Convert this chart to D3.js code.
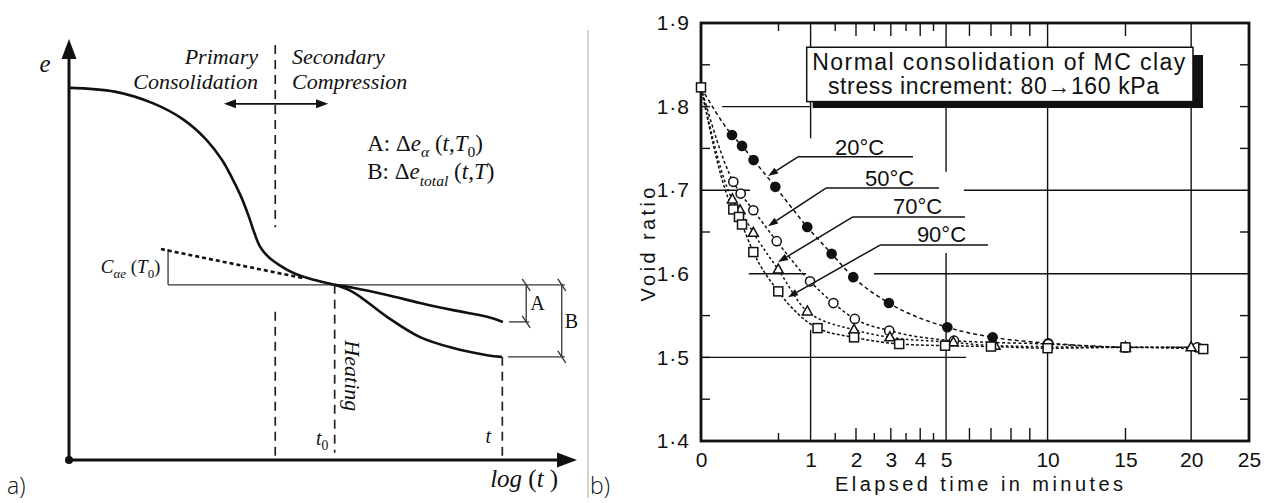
<!DOCTYPE html>
<html><head><meta charset="utf-8">
<script src="https://cdn.jsdelivr.net/npm/d3@7"></script>
<style>body{margin:0;background:#fff}svg{display:block}</style>
</head><body>
<svg id="c" width="1266" height="503"></svg>
<script>
// ================= DATA =================
// Panel (a): schematic e – log(t) curve, abstract units (0..100 on each axis)
const mainCurve = [[0,88.4],[9.0,87.5],[16.6,84.7],[22.6,80.8],[27.1,76.0],[30.1,71.3],[32.3,66.5],[33.9,62.5],[35.4,57.8],[36.5,53.9],[37.6,50.7],[39.2,48.3],[41.4,46.3],[44.4,44.3],[48.2,42.8],[52.3,41.6]];
const ambientBranch = [[52.3,41.6],[55.9,40.9],[62.6,39.2],[69.1,37.3],[75.6,35.6],[82.3,34.0],[85.4,32.8]];
const heatedBranch = [[52.3,41.6],[55.9,39.9],[62.6,34.0],[69.1,29.2],[75.6,26.6],[82.3,24.9],[85.2,24.5]];
const tangentLine = [[18.1,50.1],[46.1,43.2]];
const tDivider = 40.6, tHeat = 52.3, tEnd = 85.3;
const eRef = 41.6, eA = 32.8, eB = 24.5, eCae = 50.1;

// Panel (b): void ratio vs elapsed time (minutes)
const tempLabels = ['20°C','50°C','70°C','90°C'];
const t20 = [0,0.08,0.14,0.23,0.46,0.94,1.42,1.93,2.94,5.05,7.08,10.04,15];
const e20 = [1.823,1.766,1.753,1.736,1.704,1.656,1.624,1.596,1.565,1.536,1.524,1.517,1.512];
const t50 = [0,0.087,0.131,0.228,0.477,0.99,1.46,1.97,2.95,5.33,10.04,15,20.5];
const e50 = [1.823,1.710,1.696,1.676,1.639,1.591,1.565,1.546,1.532,1.520,1.516,1.512,1.512];
const t70 = [0,0.082,0.127,0.228,0.497,0.941,1.95,2.97,5.3,7.2,15,20];
const e70 = [1.823,1.689,1.676,1.649,1.605,1.555,1.533,1.524,1.518,1.514,1.512,1.512];
const t90 = [0,0.087,0.12,0.14,0.228,0.497,1.13,1.95,3.27,4.96,7.0,10,15,21];
const e90 = [1.823,1.677,1.668,1.659,1.626,1.579,1.535,1.524,1.516,1.514,1.513,1.511,1.512,1.510];
const yTickValues = [1.4,1.5,1.6,1.7,1.8,1.9];
const yMinorTicks = [1.45,1.55,1.65,1.75,1.85];
const xTickValues = [0,1,2,3,4,5,10,15,20,25];
const xMinorTicks = [0.5,1.5,2,2.5,3,3.5,4,4.5,6,7,8,9,15];
const boxLines = ['Normal consolidation of MC clay','stress increment: 80\u2192160 kPa'];

// ================= DRAW =================
const svg = d3.select('#c');
const INK = '#111';
const serif = 'Liberation Serif, Times New Roman, serif';
const sans = 'Liberation Sans, Arial, sans-serif';

function tri(g, x, y, dir, len, half){
  let p;
  if(dir==='up') p=[[x,y],[x-half,y+len],[x+half,y+len]];
  if(dir==='right') p=[[x,y],[x-len,y-half],[x-len,y+half]];
  if(dir==='left') p=[[x,y],[x+len,y-half],[x+len,y+half]];
  g.append('path').attr('d','M'+p.join('L')+'Z').attr('fill',INK);
}
// rich text: segs = [text, style] style: i=italic, s=subscript, si=italic subscript
function rich(g, x, y, size, segs, anchor){
  const t = g.append('text').attr('x',x).attr('y',y).attr('font-family',serif)
    .attr('font-size',size).attr('fill',INK).attr('text-anchor',anchor||'start');
  let shift = 0;
  segs.forEach(([s,st])=>{
    const sp = t.append('tspan').text(s);
    const sub = st && st.indexOf('s')>=0;
    const it = st && st.indexOf('i')>=0;
    if(it) sp.attr('font-style','italic');
    const want = sub ? size*0.28 : 0;
    if(want!==shift){ sp.attr('dy', want-shift); shift = want; }
    if(sub) sp.attr('font-size', size*0.68);
  });
  return t;
}

// ---------- Panel (a) ----------
const xA = d3.scaleLinear().domain([0,100]).range([69,577]);
const yA = d3.scaleLinear().domain([0,100]).range([460,39]);
const gA = svg.append('g');
const lineA = d3.line().x(d=>xA(d[0])).y(d=>yA(d[1])).curve(d3.curveCatmullRom.alpha(0.5));
const seg = (x1,y1,x2,y2)=>gA.append('line').attr('x1',xA(x1)).attr('y1',yA(y1)).attr('x2',xA(x2)).attr('y2',yA(y2));

// dashed verticals
const dash = {stroke:'#222','stroke-width':1.7,'stroke-dasharray':'9,6'};
[[tDivider,98.6,55.3],[tDivider,35.2,0],[tHeat,eRef,1.7],[tEnd,eB,0]].forEach(d=>{
  const l = seg(d[0],d[1],d[0],d[2]); Object.entries(dash).forEach(([k,v])=>l.attr(k,v));
});
// thin reference lines and brackets
const thin = l=>l.attr('stroke','#333').attr('stroke-width',1.3);
thin(seg(19.5,eRef,97.6,eRef));
thin(seg(19.5,eRef,19.5,eCae));
thin(seg(90.0,eRef,90.0,eA));
thin(seg(86.6,eA,90.6,eA));
thin(seg(97.0,eRef,97.0,eB));
thin(seg(86.4,eB,97.6,eB));
[[90.0,eRef],[90.0,eA],[97.0,eRef],[97.0,eB]].forEach(([x,y])=>{
  gA.append('line').attr('x1',xA(x)-4).attr('y1',yA(y)-6).attr('x2',xA(x)+4).attr('y2',yA(y)+6)
    .attr('stroke','#333').attr('stroke-width',1.3);
});
// tangent dotted
gA.append('path').attr('d',lineA(tangentLine)).attr('fill','none').attr('stroke',INK)
  .attr('stroke-width',2.6).attr('stroke-dasharray','4,3');
// curves
[mainCurve, ambientBranch, heatedBranch].forEach(c=>{
  gA.append('path').attr('d',lineA(c)).attr('fill','none').attr('stroke',INK).attr('stroke-width',2.6);
});
// axes
gA.append('line').attr('x1',xA(0)).attr('y1',yA(0)).attr('x2',xA(0)).attr('y2',yA(100)+10).attr('stroke',INK).attr('stroke-width',3);
gA.append('line').attr('x1',xA(0)).attr('y1',yA(0)).attr('x2',xA(100)-10).attr('y2',yA(0)).attr('stroke',INK).attr('stroke-width',3);
tri(gA, xA(0), yA(100), 'up', 20, 7.5);
tri(gA, xA(100), yA(0), 'right', 20, 7.5);
gA.append('circle').attr('cx',xA(0)).attr('cy',yA(0)).attr('r',4).attr('fill',INK);
// double arrow
gA.append('line').attr('x1',xA(30.5)+8).attr('y1',yA(84.6)).attr('x2',xA(51.0)-8).attr('y2',yA(84.6)).attr('stroke',INK).attr('stroke-width',1.8);
tri(gA, xA(30.5), yA(84.6), 'left', 12, 4.5);
tri(gA, xA(51.0), yA(84.6), 'right', 12, 4.5);
// texts
rich(gA, xA(-5.8), yA(92.2), 25, [['e','i']]);
rich(gA, xA(37.2), yA(94.1), 22, [['Primary','i']], 'end');
rich(gA, xA(37.2), yA(88.1), 22, [['Consolidation','i']], 'end');
rich(gA, xA(43.9), yA(94.1), 22, [['Secondary','i']]);
rich(gA, xA(43.9), yA(88.1), 22, [['Compression','i']]);
rich(gA, xA(58.7), yA(73.4), 23, [['A: \u0394',''],['e','i'],['\u03b1','si'],[' (',''],['t','i'],[',',''],['T','i'],['0','s'],[')','']]);
rich(gA, xA(58.7), yA(66.7), 23, [['B: \u0394',''],['e','i'],['total','si'],[' (',''],['t','i'],[',',''],['T','i'],[')','']]);
rich(gA, xA(18.0), yA(44.4), 19, [['C','i'],['\u03b1e','si'],[' (',''],['T','i'],['0','s'],[')','']], 'end');
rich(gA, xA(90.8), yA(35.6), 20, [['A','']]);
rich(gA, xA(97.6), yA(31.4), 20, [['B','']]);
rich(gA, xA(48.6), yA(3.6), 20, [['t','i'],['0','s']]);
rich(gA, xA(82.0), yA(4.0), 20, [['t','i']]);
rich(gA, xA(82.9), yA(-6.4), 25, [['log','i'],[' (',''],['t','i'],[' )','']]);
const heat = rich(gA, 0, 0, 22, [['Heating','i']], 'middle');
heat.attr('transform',`translate(${xA(54.4)},${yA(20.0)}) rotate(90)`);

// separator and panel letters
svg.append('line').attr('x1',588).attr('y1',30).attr('x2',588).attr('y2',498).attr('stroke','#aaa').attr('stroke-width',1);
svg.append('text').attr('x',7).attr('y',494).text('a)').attr('font-family','Open Sans, sans-serif').attr('font-weight',300).attr('font-size',23).attr('fill',INK);
svg.append('text').attr('x',590).attr('y',494).text('b)').attr('font-family','Open Sans, sans-serif').attr('font-weight',300).attr('font-size',23).attr('fill',INK);

// ---------- Panel (b) ----------
const xB = d3.scaleSqrt().domain([0,25]).range([701,1249]);
const yB = d3.scaleLinear().domain([1.4,1.9]).range([441,23]);
const gB = svg.append('g');
const bl = (t1,e1,t2,e2,w)=>gB.append('line').attr('x1',xB(t1)).attr('y1',yB(e1)).attr('x2',xB(t2)).attr('y2',yB(e2)).attr('stroke',INK).attr('stroke-width',w||1.4);

// grid segments (partially broken as in the scan)
[[1.8,0.037,1.0],[1.7,0,0.2],[1.7,5.75,25],[1.6,0.19,0.92],[1.6,2.49,25],[1.5,0,5.85]].forEach(([e,a,b])=>bl(a,e,b,e));
[[1,1.762,1.9],[1,1.4,1.533],[5,1.722,1.9],[5,1.4,1.625],[10,1.4,1.9],[20,1.4,1.9]].forEach(([t,a,b])=>bl(t,a,t,b));

// minor ticks
xMinorTicks.forEach(t=>{
  const len = (t%1===0.5 || t===0.5) ? 8 : 13;
  gB.append('line').attr('x1',xB(t)).attr('x2',xB(t)).attr('y1',yB(1.4)).attr('y2',yB(1.4)-len).attr('stroke',INK).attr('stroke-width',1.4);
  gB.append('line').attr('x1',xB(t)).attr('x2',xB(t)).attr('y1',yB(1.9)).attr('y2',yB(1.9)+len).attr('stroke',INK).attr('stroke-width',1.4);
});
yMinorTicks.concat([1.5,1.8]).forEach(e=>{
  gB.append('line').attr('x1',xB(0)).attr('x2',xB(0)+9).attr('y1',yB(e)).attr('y2',yB(e)).attr('stroke',INK).attr('stroke-width',1.4);
  gB.append('line').attr('x1',xB(25)).attr('x2',xB(25)-9).attr('y1',yB(e)).attr('y2',yB(e)).attr('stroke',INK).attr('stroke-width',1.4);
});

// frame
gB.append('rect').attr('x',xB(0)).attr('y',yB(1.9)).attr('width',xB(25)-xB(0)).attr('height',yB(1.4)-yB(1.9))
  .attr('fill','none').attr('stroke',INK).attr('stroke-width',2.8);

// axes labels via d3 axes
const axL = gB.append('g').attr('transform',`translate(${xB(0)},0)`)
  .call(d3.axisLeft(yB).tickValues(yTickValues).tickSize(0).tickPadding(11).tickFormat(d=>d.toFixed(1).replace('.','\u00b7')));
const axB = gB.append('g').attr('transform',`translate(0,${yB(1.4)})`)
  .call(d3.axisBottom(xB).tickValues(xTickValues).tickSize(0).tickPadding(11).tickFormat(d3.format('d')));
[axL,axB].forEach(a=>{a.select('.domain').remove(); a.selectAll('text').attr('font-family',sans).attr('font-size',21).attr('fill',INK);});
axL.selectAll('text').attr('letter-spacing',1);
gB.append('text').attr('x',(xB(0)+xB(25))/2+4).attr('y',491).attr('text-anchor','middle')
  .attr('font-family',sans).attr('font-size',20).attr('fill',INK).attr('textLength',288).attr('lengthAdjust','spacing')
  .text('Elapsed time in minutes');
gB.append('text').attr('transform',`translate(${xB(0)-46},${yB(1.635)}) rotate(-90)`).attr('text-anchor','middle')
  .attr('font-family',sans).attr('font-size',20).attr('fill',INK).attr('textLength',114).attr('lengthAdjust','spacing')
  .text('Void ratio');

// note box with shadow
gB.append('rect').attr('x',xB(1.038)).attr('y',yB(1.806)).attr('width',xB(20.98)-xB(1.038)).attr('height',yB(1.7983)-yB(1.806)).attr('fill',INK);
gB.append('rect').attr('x',xB(20.15)).attr('y',yB(1.8617)).attr('width',xB(20.98)-xB(20.15)).attr('height',yB(1.7983)-yB(1.8617)).attr('fill',INK);
gB.append('rect').attr('x',xB(0.93)).attr('y',yB(1.871)).attr('width',xB(20.15)-xB(0.93)).attr('height',yB(1.806)-yB(1.871))
  .attr('fill','#fff').attr('stroke',INK).attr('stroke-width',1.5);
gB.append('text').attr('x',xB(1.03)).attr('y',yB(1.8438)).attr('font-family',sans).attr('font-size',23).attr('fill',INK)
  .attr('textLength',373).attr('lengthAdjust','spacing').text(boxLines[0]);
gB.append('text').attr('x',xB(1.343)).attr('y',yB(1.815)).attr('font-family',sans).attr('font-size',23).attr('fill',INK)
  .attr('textLength',331).attr('lengthAdjust','spacing').text(boxLines[1]);

// curves
const series = [
  {t:t20,e:e20,mark:'fcircle',dash:'4,3'},
  {t:t50,e:e50,mark:'ocircle',dash:'3,2.5'},
  {t:t70,e:e70,mark:'triangle',dash:'2.5,2.5'},
  {t:t90,e:e90,mark:'square',dash:'3,2'}
];
const lineB = d3.line().x(d=>xB(d[0])).y(d=>yB(d[1])).curve(d3.curveMonotoneX);
series.forEach(s=>{
  const pts = s.t.map((t,i)=>[t,s.e[i]]);
  gB.append('path').attr('d',lineB(pts)).attr('fill','none').attr('stroke',INK).attr('stroke-width',1.5).attr('stroke-dasharray',s.dash);
});
series.forEach(s=>{
  s.t.forEach((t,i)=>{
    if(t===0 && s.mark!=='square') return;
    const x=xB(t), y=yB(s.e[i]);
    if(s.mark==='fcircle') gB.append('circle').attr('cx',x).attr('cy',y).attr('r',5.3).attr('fill',INK);
    if(s.mark==='ocircle') gB.append('circle').attr('cx',x).attr('cy',y).attr('r',4.6).attr('fill','#fff').attr('stroke',INK).attr('stroke-width',1.5);
    if(s.mark==='triangle') gB.append('path').attr('d',`M${x},${y-5.5}L${x+5},${y+3.5}L${x-5},${y+3.5}Z`).attr('fill','#fff').attr('stroke',INK).attr('stroke-width',1.5);
    if(s.mark==='square') gB.append('rect').attr('x',x-4.5).attr('y',y-4.5).attr('width',9).attr('height',9).attr('fill','#fff').attr('stroke',INK).attr('stroke-width',1.5);
  });
});

// temperature labels with leader arrows
const leaders = [
  {tx:1.495,ty:1.742,le:1.740,l0:0.783,l1:3.74,at:0.374,ae:1.717},
  {tx:2.24,ty:1.705,le:1.7026,l0:1.30,l1:4.72,at:0.374,ae:1.657},
  {tx:3.07,ty:1.672,le:1.668,l0:1.92,l1:5.80,at:0.494,ae:1.614},
  {tx:3.88,ty:1.638,le:1.6344,l0:2.67,l1:6.86,at:0.63,ae:1.572}
];
leaders.forEach((L,i)=>{
  gB.append('text').attr('x',xB(L.tx)).attr('y',yB(L.ty)).attr('font-family',sans).attr('font-size',22).attr('fill',INK).text(tempLabels[i]);
  bl(L.l0,L.le,L.l1,L.le,1.5);
  const x1=xB(L.l0), y1=yB(L.le), x2=xB(L.at), y2=yB(L.ae);
  const ang=Math.atan2(y2-y1,x2-x1), len=10, hw=3.5;
  const bx=x2-len*Math.cos(ang), by=y2-len*Math.sin(ang);
  gB.append('line').attr('x1',x1).attr('y1',y1).attr('x2',bx).attr('y2',by).attr('stroke',INK).attr('stroke-width',1.5);
  const p=[[x2,y2],[bx+hw*Math.sin(ang),by-hw*Math.cos(ang)],[bx-hw*Math.sin(ang),by+hw*Math.cos(ang)]];
  gB.append('path').attr('d','M'+p.join('L')+'Z').attr('fill',INK);
});
</script>
</body></html>
